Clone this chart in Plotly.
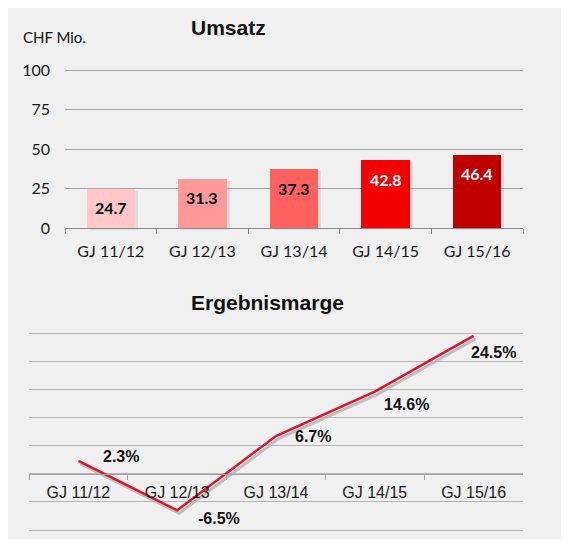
import plotly.graph_objects as go

# ---------------- data ----------------
years = ["GJ 11/12", "GJ 12/13", "GJ 13/14", "GJ 14/15", "GJ 15/16"]
umsatz = [24.7, 31.3, 37.3, 42.8, 46.4]
umsatz_labels = ["24.7", "31.3", "37.3", "42.8", "46.4"]
umsatz_ticks = [0, 25, 50, 75, 100]
marge = [2.3, -6.5, 6.7, 14.6, 24.5]
marge_labels = ["2.3%", "-6.5%", "6.7%", "14.6%", "24.5%"]
marge_grid = [-10, -5, 0, 5, 10, 15, 20, 25]

# ---------------- style ----------------
bar_colors = ["#ffc7c7", "#ff9999", "#ff6161", "#f50000", "#c00000"]
bar_text_colors = ["#000000", "#000000", "#000000", "#ffffff", "#ffffff"]
label_shift = [(43, 4), (42, -8), (37, 0), (32, -13), (20, -17)]
LINE_RED = "#e0132e"
CAL = "Lato"
ARIAL = "Liberation Sans"

# the page body adds an 8px offset; screen coords are converted to figure coords
OFF = 8
W, H = 561, 531
def px(x):
    return (x - OFF) / W
def py(y):
    return 1 - (y - OFF) / H

# top chart: value 0 at screen y 228, value 100 at 70; extend 2px above top
t_scale = (228 - 70) / 100.0
top_range = [0, 100 + 2 / t_scale]
top_x = [px(65), px(523)]
top_y = [py(228), py(68)]
# bottom chart: value -10 at 530, 25 at 333; extend 2px both sides
b_scale = (530 - 333) / 35.0
bot_range = [-10 - 2 / b_scale, 25 + 2 / b_scale]
bot_x = [px(29), px(523)]
bot_y = [py(532), py(331)]
# shadows
sh_top_x = [px(68), px(526)]
sh_top_y = [py(230), py(70)]
sh_bot_x = [px(31), px(525)]
sh_bot_y = [py(535), py(334)]

fig = go.Figure()

fig.add_trace(go.Bar(x=years, y=umsatz, xaxis="x", yaxis="y", width=0.53,
                     marker=dict(color="rgba(0,0,0,0.08)", line=dict(width=0)),
                     hoverinfo="skip", showlegend=False))
fig.add_trace(go.Bar(x=years, y=umsatz, xaxis="x2", yaxis="y2", width=0.53,
                     marker=dict(color=bar_colors, line=dict(width=0)),
                     showlegend=False))
fig.add_trace(go.Scatter(x=years, y=marge, xaxis="x3", yaxis="y3", mode="lines",
                         line=dict(color="rgba(40,40,40,0.25)", width=3),
                         hoverinfo="skip", showlegend=False))
fig.add_trace(go.Scatter(x=years, y=marge, xaxis="x4", yaxis="y4", mode="lines",
                         line=dict(color=LINE_RED, width=2.5),
                         showlegend=False))

zero_pos = bot_y[0] + (0 - bot_range[0]) / (bot_range[1] - bot_range[0]) * (bot_y[1] - bot_y[0])

annotations = [
    dict(text="Umsatz", x=px(228), y=py(28), xref="paper", yref="paper",
         xanchor="center", yanchor="middle",
         showarrow=False, font=dict(family=ARIAL, size=21, color="#111", weight="bold")),
    dict(text="CHF Mio.", x=px(21), y=py(37), xref="paper", yref="paper",
         xanchor="left", yanchor="middle",
         showarrow=False, font=dict(family=CAL, size=15, color="#111")),
    dict(text="Ergebnismarge", x=px(267), y=py(302), xref="paper", yref="paper",
         xanchor="center", yanchor="middle",
         showarrow=False, font=dict(family=ARIAL, size=21, color="#111", weight="bold")),
]
for i, yr in enumerate(years):
    annotations.append(dict(text=umsatz_labels[i], x=yr, y=umsatz[i], xref="x2", yref="y2",
                            xanchor="center", yanchor="middle", yshift=-19, showarrow=False,
                            font=dict(family=CAL, size=16, color=bar_text_colors[i], weight="bold")))
    annotations.append(dict(text=marge_labels[i], x=yr, y=marge[i], xref="x4", yref="y4",
                            xanchor="center", yanchor="middle",
                            xshift=label_shift[i][0], yshift=label_shift[i][1], showarrow=False,
                            font=dict(family=ARIAL, size=16, color="#111", weight="bold")))

fig.update_layout(
    width=W, height=H,
    margin=dict(l=0, r=0, t=0, b=0, autoexpand=False),
    paper_bgcolor="#f0f0f0",
    plot_bgcolor="rgba(0,0,0,0)",
    bargap=0,
    annotations=annotations,
    xaxis=dict(domain=sh_top_x, anchor="y", type="category", range=[-0.5, 4.5],
               visible=False, automargin=False),
    yaxis=dict(domain=sh_top_y, anchor="x", range=top_range, visible=False, automargin=False),
    xaxis3=dict(domain=sh_bot_x, anchor="y3", type="category", range=[-0.5, 4.5],
                visible=False, automargin=False),
    yaxis3=dict(domain=sh_bot_y, anchor="x3", range=bot_range, visible=False, automargin=False),
    xaxis2=dict(domain=top_x, anchor="y2", type="category", range=[-0.5, 4.5],
                showline=True, linecolor="#8c8c8c", linewidth=1,
                ticks="outside", ticklen=5, tickcolor="#8c8c8c", tickson="boundaries",
                showgrid=False, tickfont=dict(family=CAL, size=16, color="#1a1a1a"),
                ticklabelstandoff=9, automargin=False),
    yaxis2=dict(domain=top_y, anchor="x2", range=top_range, tickvals=umsatz_ticks,
                showgrid=True, gridcolor="#a3a3a3", gridwidth=1, zeroline=False,
                showline=False, ticks="", ticklabelstandoff=14,
                tickfont=dict(family=CAL, size=16, color="#1a1a1a"), automargin=False),
    xaxis4=dict(domain=bot_x, anchor="free", position=zero_pos, type="category",
                range=[-0.5, 4.5], showline=True, linecolor="#a3a3a3", linewidth=1,
                ticks="outside", ticklen=5, tickcolor="#a3a3a3", tickson="boundaries",
                showgrid=False, tickfont=dict(family=ARIAL, size=16, color="#1a1a1a"),
                ticklabelstandoff=4, automargin=False),
    yaxis4=dict(domain=bot_y, anchor="x4", range=bot_range,
                tickvals=marge_grid, showticklabels=False, ticks="",
                showgrid=True, gridcolor="#b5b5b5", gridwidth=1, zeroline=False,
                showline=False, automargin=False),
)

fig.write_html("out.html")
